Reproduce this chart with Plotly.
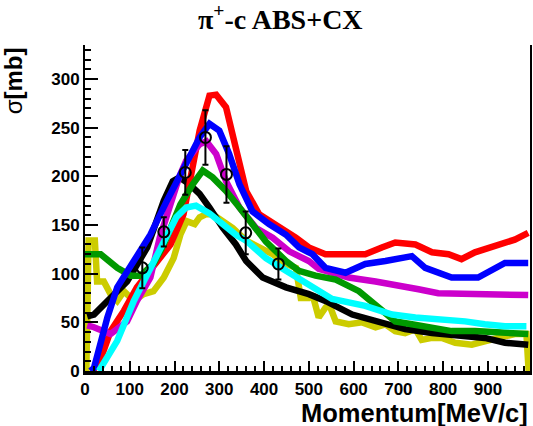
import plotly.graph_objects as go

# Momentum [MeV/c] and cross section [mb] for each model curve
black_x = [5, 20, 57, 94, 139, 176, 196, 211, 233, 256, 278, 308, 337, 360, 397, 449, 500, 537, 597, 656, 715, 775, 834, 893, 938, 990]
black_y = [56, 58, 75, 92, 127, 175, 195, 199, 192, 182, 168, 147, 130, 113, 96, 86, 79, 72, 58, 51, 43, 39, 36, 34, 29, 27]

red_x = [15, 31, 57, 87, 116, 146, 191, 220, 240, 256, 278, 293, 315, 337, 360, 389, 426, 471, 500, 537, 580, 626, 663, 693, 738, 775, 812, 841, 871, 923, 960, 990]
red_y = [0, 7, 41, 62, 86, 103, 130, 161, 210, 247, 283, 284, 271, 229, 185, 161, 151, 137, 127, 120, 120, 120, 127, 132, 130, 122, 120, 115, 122, 130, 135, 142]

magenta_x = [5, 20, 57, 94, 116, 146, 167, 211, 226, 256, 271, 293, 315, 345, 382, 419, 456, 500, 522, 589, 649, 700, 745, 789, 849, 923, 990]
magenta_y = [47, 45, 38, 51, 72, 96, 137, 200, 216, 233, 236, 223, 195, 168, 147, 137, 123, 113, 105, 96, 92, 87, 84, 80, 79, 78, 78]

blue_x = [12, 20, 50, 72, 109, 146, 183, 226, 256, 278, 300, 322, 345, 374, 411, 449, 478, 508, 537, 582, 626, 671, 730, 760, 797, 819, 878, 908, 938, 990]
blue_y = [0, 3, 55, 86, 113, 140, 175, 212, 240, 254, 247, 223, 192, 164, 151, 140, 127, 120, 106, 101, 110, 113, 118, 106, 99, 96, 96, 103, 111, 111]

green_x = [0, 35, 72, 102, 124, 153, 176, 213, 241, 263, 285, 315, 345, 382, 404, 449, 478, 515, 560, 612, 656, 693, 730, 775, 819, 871, 923, 990]
green_y = [120, 120, 106, 98, 98, 110, 130, 171, 192, 206, 199, 185, 168, 147, 133, 113, 103, 98, 94, 82, 65, 51, 48, 45, 41, 41, 39, 38]

yellow_x = [3, 8, 22, 27, 42, 57, 72, 87, 109, 131, 153, 176, 198, 213, 227, 245, 256, 270, 285, 308, 330, 360, 389, 419, 449, 471, 482, 500, 508, 522, 537, 545, 560, 589, 619, 649, 671, 693, 715, 738, 752, 775, 797, 827, 864, 893, 923, 960, 986, 991]
yellow_y = [0, 134, 134, 92, 92, 79, 72, 82, 72, 79, 82, 96, 116, 140, 154, 151, 158, 161, 161, 154, 147, 134, 127, 120, 110, 106, 75, 75, 79, 55, 65, 69, 51, 48, 50, 45, 48, 41, 39, 43, 32, 34, 34, 29, 27, 31, 34, 38, 38, 0]

cyan_x = [31, 72, 109, 146, 183, 204, 226, 248, 278, 308, 337, 360, 404, 449, 500, 515, 552, 626, 686, 738, 797, 849, 893, 938, 986]
cyan_y = [0, 31, 72, 106, 137, 158, 168, 170, 162, 151, 140, 134, 116, 103, 89, 84, 74, 67, 58, 55, 53, 51, 48, 46, 46]

# Measured points with uncertainties
data_x = [128, 176, 224, 269, 316, 359, 432]
data_y = [106, 143, 204, 240, 202, 142, 110]
data_err = [21, 15, 23, 28, 29, 22, 16]

# Axis ticks
x_ticks = [0, 100, 200, 300, 400, 500, 600, 700, 800, 900]
y_ticks = [0, 50, 100, 150, 200, 250, 300]

curves = [
    (yellow_x, yellow_y, "#cccc00"),
    (black_x, black_y, "#000000"),
    (red_x, red_y, "#ff0000"),
    (magenta_x, magenta_y, "#cc00cc"),
    (green_x, green_y, "#009900"),
    (blue_x, blue_y, "#0000ff"),
    (cyan_x, cyan_y, "#00ffff"),
]

fig = go.Figure()
for xs, ys, col in curves:
    fig.add_trace(go.Scatter(
        x=xs, y=ys, mode="lines",
        line=dict(color=col, width=6.5),
        showlegend=False, hoverinfo="skip",
    ))

fig.add_trace(go.Scatter(
    x=data_x, y=data_y, mode="markers",
    marker=dict(symbol="circle-open", size=11, color="black",
                line=dict(width=2, color="black")),
    error_y=dict(type="data", array=data_err, visible=True,
                 color="black", thickness=2, width=3),
    showlegend=False,
))

tick_font = dict(family="Liberation Sans", size=17, color="black", weight="bold")

fig.update_layout(
    width=533, height=426,
    margin=dict(l=85, r=1, t=45, b=55),
    paper_bgcolor="white", plot_bgcolor="white",
    xaxis=dict(
        range=[0, 994], tickvals=x_ticks, ticks="inside", ticklen=10,
        tickwidth=2, tickcolor="black", showline=True, linecolor="black",
        linewidth=4, mirror=False, showgrid=False, zeroline=False,
        tickfont=tick_font,
        minor=dict(ticks="inside", dtick=20, ticklen=5, tickwidth=1.5,
                   tickcolor="black", showgrid=False),
    ),
    xaxis2=dict(
        matches="x", overlaying="x", side="top", range=[0, 994],
        tickvals=x_ticks, ticks="inside", ticklen=10, tickwidth=2,
        tickcolor="black", showline=True, linecolor="black", linewidth=2,
        showticklabels=False, showgrid=False, zeroline=False,
        minor=dict(ticks="inside", dtick=20, ticklen=5, tickwidth=1.5,
                   tickcolor="black", showgrid=False),
    ),
    yaxis=dict(
        range=[0, 335], tickvals=y_ticks, ticks="inside", ticklen=13,
        tickwidth=2, tickcolor="black", showline=True, linecolor="black",
        linewidth=2, mirror=True, showgrid=False, zeroline=False,
        tickfont=tick_font,
        minor=dict(ticks="inside", dtick=10, ticklen=6, tickwidth=1.5,
                   tickcolor="black", showgrid=False),
    ),
    annotations=[
        dict(text="<b>π<sup>+</sup>-c ABS+CX</b>", xref="paper", yref="paper",
             x=0.44, y=1.025, xanchor="center", yanchor="bottom",
             showarrow=False,
             font=dict(family="Liberation Serif", size=28, color="black")),
        dict(text="σ<b>[mb]</b>", xref="paper", yref="paper",
             x=-0.16, y=1.0, xanchor="center", yanchor="top",
             textangle=-90, showarrow=False,
             font=dict(family="Liberation Sans", size=24, color="black")),
        dict(text="<b>Momentum[MeV/c]</b>", xref="paper", yref="paper",
             x=1.0, y=-0.13, xanchor="right", yanchor="middle",
             showarrow=False,
             font=dict(family="Liberation Sans", size=25.5, color="black")),
    ],
)

fig.write_html("out.html")
